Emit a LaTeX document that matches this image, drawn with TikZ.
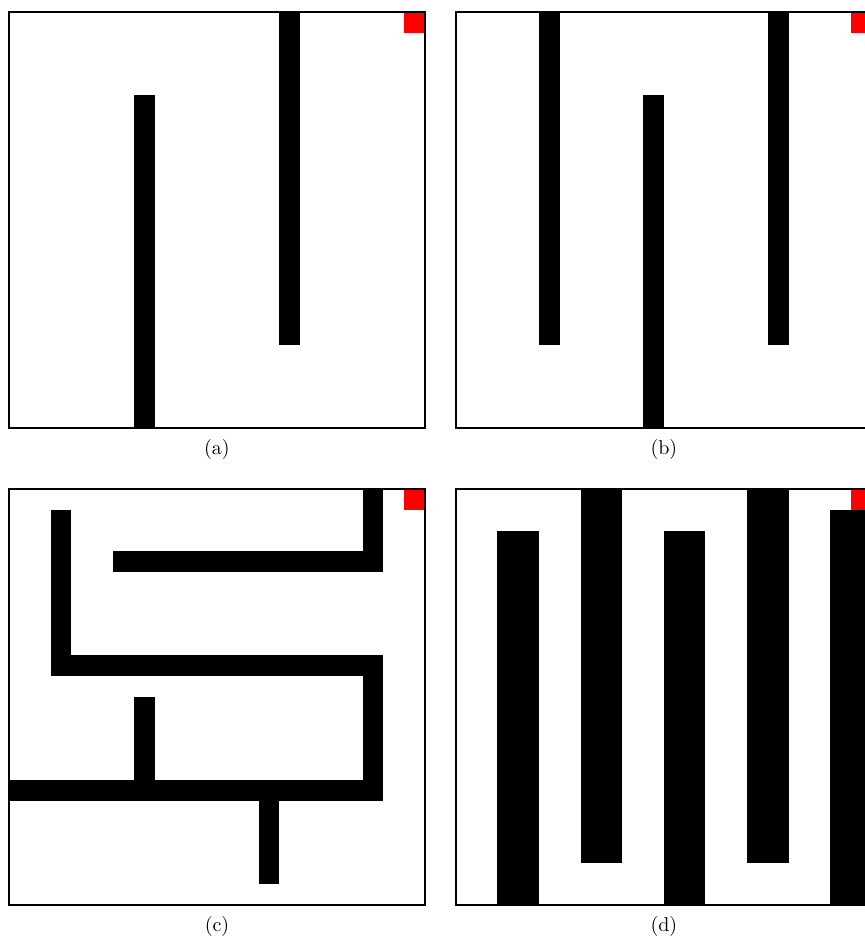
\documentclass[tikz,border=0pt]{standalone}
\usepackage{tikz}
\usetikzlibrary{positioning}

\begin{document}
\begin{tikzpicture}[
    x=10.4pt, y=-10.4pt,
    wall/.style={fill=black, draw=none},
    goal/.style={fill=red, draw=none},
    frame/.style={draw=black, line width=0.6pt},
    sublbl/.style={font=\normalsize, anchor=center}
  ]
  \useasboundingbox (0,0) rectangle (41.59,45.10);

  % (a) two walls
  \begin{scope}[shift={(0.433,0.577)}]
    \fill[wall] (6,4) rectangle (7,20);
    \fill[wall] (13,0) rectangle (14,16);
    \fill[goal] (19,0) rectangle (20,1);
    \draw[frame] (0,0) rectangle (20,20);
    \node[sublbl] (capA) at (10,21.05) {(a)};
  \end{scope}

  % (b) three walls
  \begin{scope}[shift={(21.92,0.577)}]
    \fill[wall] (4,0) rectangle (5,16);
    \fill[wall] (9,4) rectangle (10,20);
    \fill[wall] (15,0) rectangle (16,16);
    \fill[goal] (19,0) rectangle (20,1);
    \draw[frame] (0,0) rectangle (20,20);
    \node[sublbl] (capB) at (10,21.05) {(b)};
  \end{scope}

  % (c) maze
  \begin{scope}[shift={(0.433,23.51)}]
    \fill[wall] (2,1) rectangle (3,9);
    \fill[wall] (2,8) rectangle (18,9);
    \fill[wall] (5,3) rectangle (18,4);
    \fill[wall] (17,0) rectangle (18,4);
    \fill[wall] (17,8) rectangle (18,15);
    \fill[wall] (0,14) rectangle (18,15);
    \fill[wall] (6,10) rectangle (7,14);
    \fill[wall] (12,15) rectangle (13,19);
    \fill[goal] (19,0) rectangle (20,1);
    \draw[frame] (0,0) rectangle (20,20);
    \node[sublbl] (capC) at (10,21.05) {(c)};
  \end{scope}

  % (d) thick walls
  \begin{scope}[shift={(21.92,23.51)}]
    \fill[wall] (2,2) rectangle (4,20);
    \fill[wall] (6,0) rectangle (8,18);
    \fill[wall] (10,2) rectangle (12,20);
    \fill[wall] (14,0) rectangle (16,18);
    \fill[wall] (18,1) rectangle (20,20);
    \fill[goal] (19,0) rectangle (20,1);
    \draw[frame] (0,0) rectangle (20,20);
    \node[sublbl] (capD) at (10,21.05) {(d)};
  \end{scope}
\end{tikzpicture}
\end{document}
